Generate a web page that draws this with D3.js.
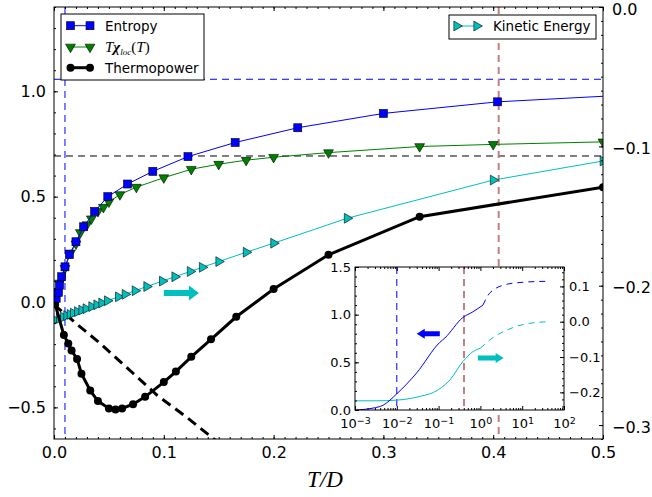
<!DOCTYPE html>
<html>
<head>
<meta charset="utf-8">
<script src="https://cdn.jsdelivr.net/npm/d3@7"></script>
<style>
body { margin: 0; background: #fff; }
text { font-family: "DejaVu Sans", sans-serif; }
</style>
</head>
<body>
<script>
// ---- main panel data ----
var entropyT   = [0.002, 0.004, 0.005, 0.007, 0.010, 0.014, 0.020, 0.027, 0.037, 0.049, 0.067, 0.090, 0.122, 0.165, 0.222, 0.300, 0.404, 0.550];
var entropyVal = [0.018, 0.046, 0.080, 0.120, 0.167, 0.225, 0.286, 0.357, 0.430, 0.500, 0.560, 0.620, 0.690, 0.757, 0.827, 0.895, 0.950, 0.990];

var chiT   = [0.003, 0.005, 0.010, 0.015, 0.020, 0.024, 0.030, 0.034, 0.040, 0.045, 0.050, 0.060, 0.075, 0.100, 0.125, 0.150, 0.175, 0.200, 0.250, 0.333, 0.400, 0.500];
var chiVal = [0.050, 0.090, 0.160, 0.233, 0.276, 0.330, 0.367, 0.395, 0.430, 0.450, 0.475, 0.510, 0.545, 0.590, 0.630, 0.654, 0.673, 0.687, 0.709, 0.738, 0.748, 0.760];

var thermoT   = [0.001, 0.009, 0.013, 0.016, 0.021, 0.025, 0.033, 0.040, 0.050, 0.056, 0.062, 0.072, 0.083, 0.100, 0.111, 0.125, 0.143, 0.166, 0.200, 0.250, 0.333, 0.500];
var thermoVal = [-0.010, -0.157, -0.197, -0.230, -0.270, -0.340, -0.420, -0.470, -0.505, -0.510, -0.505, -0.485, -0.450, -0.380, -0.330, -0.260, -0.177, -0.070, 0.062, 0.224, 0.405, 0.545];

// low-T thermopower (dashed)
var lowT    = [0.000, 0.022, 0.042, 0.072, 0.094, 0.121, 0.160];
var lowTVal = [-0.012, -0.110, -0.196, -0.338, -0.443, -0.547, -0.710];

// kinetic energy, right axis
var keT   = [0.0009, 0.0049, 0.0085, 0.0115, 0.0146, 0.0176, 0.0213, 0.0252, 0.0291, 0.0343, 0.0389, 0.0434, 0.0486, 0.0586, 0.0647, 0.0738, 0.0844, 0.0987, 0.110, 0.124, 0.135, 0.150, 0.175, 0.200, 0.267, 0.400, 0.500];
var keVal = [-0.2245, -0.2235, -0.2225, -0.2215, -0.2206, -0.2197, -0.2186, -0.2175, -0.2165, -0.2150, -0.2137, -0.2124, -0.2108, -0.2080, -0.2062, -0.2036, -0.2006, -0.1967, -0.1936, -0.1898, -0.1868, -0.1827, -0.1760, -0.1695, -0.1516, -0.1242, -0.1105];

var ln2Level = 0.693, entropyTop = 1.057, tLow = 0.010, tHigh = 0.405;

// ---- inset data ----
var inSolidT     = [0.001, 0.0027, 0.0047, 0.010, 0.030, 0.107, 0.141, 0.38, 0.66, 1.15];
var inSolidS     = [0.0, 0.02, 0.05, 0.17, 0.39, 0.71, 0.755, 0.97, 1.03, 1.10];
var inDashT      = [1.15, 1.7, 4.4, 10.5, 39];
var inDashS      = [1.10, 1.23, 1.32, 1.34, 1.35];
var inKeSolidT   = [0.001, 0.0032, 0.010, 0.0316, 0.100, 0.186, 0.38, 0.66, 1.0];
var inKeSolidVal = [-0.224, -0.224, -0.222, -0.213, -0.192, -0.165, -0.113, -0.085, -0.075];
var inKeDashT    = [1.0, 1.7, 4.4, 10.5, 39];
var inKeDashVal  = [-0.075, -0.051, -0.023, -0.008, 0.0];

// ticks
var xTicks = [0, 0.1, 0.2, 0.3, 0.4, 0.5];
var yLeftTicks = [-0.5, 0, 0.5, 1.0];
var yRightTicks = [-0.3, -0.2, -0.1, 0.0];
var inXTicks = [1e-3, 1e-2, 1e-1, 1e0, 1e1, 1e2];
var inXExp = ["\u22123", "\u22122", "\u22121", "0", "1", "2"];
var inLeftTicks = [0, 0.5, 1.0, 1.5];
var inRightTicks = [-0.2, -0.1, 0.0, 0.1];

var W = 652, H = 497;
var L = 54, R = 603, T = 7, B = 439;
var BLUE = "#0000ff", GREEN = "#008000", CYAN = "#00bfbf", RED = "#c47f7f";

var svg = d3.select("body").append("svg").attr("width", W).attr("height", H);
svg.append("rect").attr("width", W).attr("height", H).attr("fill", "#fff");

var x = d3.scaleLinear().domain([0, 0.5]).range([L, R]);
var yL = d3.scaleLinear().domain([-0.65, 1.4]).range([B, T]);
var yR = d3.scaleLinear().domain([-0.31, 0]).range([B, T]);

svg.append("clipPath").attr("id", "clipMain").append("rect")
   .attr("x", L).attr("y", T).attr("width", R - L).attr("height", B - T);
var plot = svg.append("g").attr("clip-path", "url(#clipMain)");

function zip(a, b) { return a.map(function(v, i) { return [v, b[i]]; }); }

// reference lines
plot.append("line").attr("x1", L).attr("x2", R).attr("y1", yL(entropyTop)).attr("y2", yL(entropyTop))
    .attr("stroke", BLUE).attr("stroke-width", 1).attr("stroke-dasharray", "7,5");
plot.append("line").attr("x1", x(tLow)).attr("x2", x(tLow)).attr("y1", T).attr("y2", B)
    .attr("stroke", BLUE).attr("stroke-width", 1).attr("stroke-dasharray", "7,5");
plot.append("line").attr("x1", L).attr("x2", R).attr("y1", yL(ln2Level)).attr("y2", yL(ln2Level))
    .attr("stroke", "#000").attr("stroke-width", 1).attr("stroke-dasharray", "7,5");
plot.append("line").attr("x1", x(tHigh)).attr("x2", x(tHigh)).attr("y1", T).attr("y2", B)
    .attr("stroke", RED).attr("stroke-width", 2).attr("stroke-dasharray", "7,5");

var lineL = d3.line().x(function(d) { return x(d[0]); }).y(function(d) { return yL(d[1]); });
var lineR = d3.line().x(function(d) { return x(d[0]); }).y(function(d) { return yR(d[1]); });

// low-T dashed
plot.append("path").datum(zip(lowT, lowTVal)).attr("d", lineL)
    .attr("fill", "none").attr("stroke", "#000").attr("stroke-width", 3).attr("stroke-dasharray", "10,6");

// kinetic energy
var ke = zip(keT, keVal);
plot.append("path").datum(ke).attr("d", lineR).attr("fill", "none").attr("stroke", CYAN).attr("stroke-width", 1);
plot.selectAll(".ke").data(ke).enter().append("path")
    .attr("d", d3.symbol().type(d3.symbolTriangle).size(42))
    .attr("transform", function(d) { return "translate(" + x(d[0]) + "," + yR(d[1]) + ") rotate(90)"; })
    .attr("fill", CYAN).attr("stroke", "#000").attr("stroke-width", 0.6);

// thermopower
var th = zip(thermoT, thermoVal);
plot.append("path").datum(th).attr("d", lineL).attr("fill", "none").attr("stroke", "#000").attr("stroke-width", 3);
plot.selectAll(".th").data(th).enter().append("circle")
    .attr("cx", function(d) { return x(d[0]); }).attr("cy", function(d) { return yL(d[1]); })
    .attr("r", 4).attr("fill", "#000");

// T chi_loc
var chi = zip(chiT, chiVal);
plot.append("path").datum(chi).attr("d", lineL).attr("fill", "none").attr("stroke", GREEN).attr("stroke-width", 1);
plot.selectAll(".chi").data(chi).enter().append("path")
    .attr("d", d3.symbol().type(d3.symbolTriangle).size(42))
    .attr("transform", function(d) { return "translate(" + x(d[0]) + "," + yL(d[1]) + ") rotate(180)"; })
    .attr("fill", GREEN).attr("stroke", "#000").attr("stroke-width", 0.6);

// entropy
var ent = zip(entropyT, entropyVal);
plot.append("path").datum(ent).attr("d", lineL).attr("fill", "none").attr("stroke", BLUE).attr("stroke-width", 1);
plot.selectAll(".ent").data(ent).enter().append("rect")
    .attr("x", function(d) { return x(d[0]) - 4; }).attr("y", function(d) { return yL(d[1]) - 4; })
    .attr("width", 8).attr("height", 8)
    .attr("fill", BLUE).attr("stroke", "#000").attr("stroke-width", 0.6);

// block arrow helper (tip at x2)
function arrow(g, x1, x2, y, sw, hw, hl, color) {
  var dir = x2 > x1 ? 1 : -1;
  var xb = x2 - dir * hl;
  var pts = [[x1, y - sw / 2], [xb, y - sw / 2], [xb, y - hw / 2], [x2, y], [xb, y + hw / 2], [xb, y + sw / 2], [x1, y + sw / 2]];
  g.append("path").attr("d", d3.line()(pts) + "Z").attr("fill", color);
}
arrow(svg, x(0.1), x(0.132), yR(-0.2052), 6, 15, 10, CYAN);

// ---- main axes ----
function strip(g) { g.select(".domain").remove(); g.selectAll("line").attr("stroke", "#000"); }
var fmt1 = d3.format(".1f");
var minorX = d3.range(0, 51).map(function(i) { return i / 100; });
var minorYL = d3.range(-6, 15).map(function(i) { return i / 10; });
var minorYR = d3.range(-31, 1).map(function(i) { return i / 100; });

svg.append("g").attr("transform", "translate(0," + B + ")")
   .call(d3.axisBottom(x).tickValues(minorX).tickSize(-2).tickFormat("")).call(strip);
svg.append("g").attr("transform", "translate(0," + B + ")")
   .call(d3.axisBottom(x).tickValues(xTicks).tickSize(-4).tickPadding(8).tickFormat(fmt1)).call(strip)
   .selectAll("text").attr("font-size", 16).attr("fill", "#000");
svg.append("g").attr("transform", "translate(0," + T + ")")
   .call(d3.axisTop(x).tickValues(minorX).tickSize(-2).tickFormat("")).call(strip);
svg.append("g").attr("transform", "translate(0," + T + ")")
   .call(d3.axisTop(x).tickValues(xTicks).tickSize(-4).tickFormat("")).call(strip);

svg.append("g").attr("transform", "translate(" + L + ",0)")
   .call(d3.axisLeft(yL).tickValues(minorYL).tickSize(-2).tickFormat("")).call(strip);
svg.append("g").attr("transform", "translate(" + L + ",0)")
   .call(d3.axisLeft(yL).tickValues(yLeftTicks).tickSize(-4).tickPadding(8).tickFormat(fmt1)).call(strip)
   .selectAll("text").attr("font-size", 16).attr("fill", "#000");

svg.append("g").attr("transform", "translate(" + R + ",0)")
   .call(d3.axisRight(yR).tickValues(minorYR).tickSize(-2).tickFormat("")).call(strip);
svg.append("g").attr("transform", "translate(" + R + ",0)")
   .call(d3.axisRight(yR).tickValues(yRightTicks).tickSize(-4).tickPadding(9).tickFormat(fmt1)).call(strip)
   .selectAll("text").attr("font-size", 16).attr("fill", "#000").attr("dy", "0.45em");

svg.append("rect").attr("x", L).attr("y", T).attr("width", R - L).attr("height", B - T)
   .attr("fill", "none").attr("stroke", "#000").attr("stroke-width", 1);

svg.append("text").attr("x", 325).attr("y", 487).attr("text-anchor", "middle")
   .attr("font-family", "Liberation Serif").attr("font-style", "italic").attr("font-size", 23)
   .style("font-family", "'Liberation Serif', serif").text("T/D");

// ---- inset ----
var iL = 355, iR = 564, iT = 267, iB = 410;
var xi = d3.scaleLog().domain([1e-3, 1e2]).range([iL, iR]);
var yiL = d3.scaleLinear().domain([0, 1.5]).range([iB, iT]);
var yiR = d3.scaleLinear().domain([-0.25, 0.155]).range([iB, iT]);
var inset = svg.append("g");
inset.append("rect").attr("x", iL).attr("y", iT).attr("width", iR - iL).attr("height", iB - iT).attr("fill", "#fff");
svg.append("clipPath").attr("id", "clipInset").append("rect")
   .attr("x", iL).attr("y", iT).attr("width", iR - iL).attr("height", iB - iT);
var ip = inset.append("g").attr("clip-path", "url(#clipInset)");

ip.append("line").attr("x1", xi(tLow)).attr("x2", xi(tLow)).attr("y1", iT).attr("y2", iB)
  .attr("stroke", BLUE).attr("stroke-width", 1).attr("stroke-dasharray", "7,5");
ip.append("line").attr("x1", xi(tHigh)).attr("x2", xi(tHigh)).attr("y1", iT).attr("y2", iB)
  .attr("stroke", RED).attr("stroke-width", 2).attr("stroke-dasharray", "7,5");

var liL = d3.line().curve(d3.curveMonotoneX).x(function(d) { return xi(d[0]); }).y(function(d) { return yiL(d[1]); });
var liR = d3.line().curve(d3.curveMonotoneX).x(function(d) { return xi(d[0]); }).y(function(d) { return yiR(d[1]); });
ip.append("path").datum(zip(inKeSolidT, inKeSolidVal)).attr("d", liR).attr("fill", "none").attr("stroke", CYAN).attr("stroke-width", 1);
ip.append("path").datum(zip(inKeDashT, inKeDashVal)).attr("d", liR).attr("fill", "none").attr("stroke", CYAN).attr("stroke-width", 1).attr("stroke-dasharray", "6,5");
ip.append("path").datum(zip(inSolidT, inSolidS)).attr("d", liL).attr("fill", "none").attr("stroke", BLUE).attr("stroke-width", 1);
ip.append("path").datum(zip(inDashT, inDashS)).attr("d", liL).attr("fill", "none").attr("stroke", BLUE).attr("stroke-width", 1).attr("stroke-dasharray", "6,5");

arrow(inset, xi(0.107), xi(0.030), yiL(0.80), 5, 10, 8, BLUE);
arrow(inset, xi(0.87), xi(3.6), yiR(-0.103), 5, 10, 8, CYAN);

var minorXi = xi.ticks().filter(function(v) { return inXTicks.indexOf(v) < 0; });
var minorYiL = d3.range(0, 16).map(function(i) { return i / 10; });
var minorYiR = d3.range(-12, 8).map(function(i) { return i / 50; });

inset.append("g").attr("transform", "translate(0," + iB + ")")
  .call(d3.axisBottom(xi).tickValues(minorXi).tickSize(-2).tickFormat("")).call(strip);
var ixb = inset.append("g").attr("transform", "translate(0," + iB + ")")
  .call(d3.axisBottom(xi).tickValues(inXTicks).tickSize(-4).tickPadding(9).tickFormat("")).call(strip);
ixb.selectAll(".tick text").attr("font-size", 13).attr("fill", "#000").each(function(d, i) {
  var t = d3.select(this);
  t.append("tspan").text("10");
  t.append("tspan").attr("dy", "-0.45em").attr("font-size", 9.5).text(inXExp[i]);
});
inset.append("g").attr("transform", "translate(0," + iT + ")")
  .call(d3.axisTop(xi).tickValues(minorXi).tickSize(-2).tickFormat("")).call(strip);
inset.append("g").attr("transform", "translate(0," + iT + ")")
  .call(d3.axisTop(xi).tickValues(inXTicks).tickSize(-4).tickFormat("")).call(strip);

inset.append("g").attr("transform", "translate(" + iL + ",0)")
  .call(d3.axisLeft(yiL).tickValues(minorYiL).tickSize(-2).tickFormat("")).call(strip);
inset.append("g").attr("transform", "translate(" + iL + ",0)")
  .call(d3.axisLeft(yiL).tickValues(inLeftTicks).tickSize(-4).tickPadding(4).tickFormat(fmt1)).call(strip)
  .selectAll("text").attr("font-size", 13).attr("fill", "#000");
inset.append("g").attr("transform", "translate(" + iR + ",0)")
  .call(d3.axisRight(yiR).tickValues(minorYiR).tickSize(-2).tickFormat("")).call(strip);
inset.append("g").attr("transform", "translate(" + iR + ",0)")
  .call(d3.axisRight(yiR).tickValues(inRightTicks).tickSize(-4).tickPadding(5).tickFormat(fmt1)).call(strip)
  .selectAll("text").attr("font-size", 13).attr("fill", "#000");
inset.append("rect").attr("x", iL).attr("y", iT).attr("width", iR - iL).attr("height", iB - iT)
  .attr("fill", "none").attr("stroke", "#000").attr("stroke-width", 1);

// ---- legends ----
var leg = svg.append("g");
leg.append("rect").attr("x", 61).attr("y", 14).attr("width", 143).attr("height", 66)
   .attr("fill", "#fff").attr("stroke", "#000").attr("stroke-width", 1);
var rows = [25.7, 47, 67.7];
// entropy row
leg.append("line").attr("x1", 70.5).attr("x2", 90).attr("y1", rows[0]).attr("y2", rows[0]).attr("stroke", BLUE);
[70.5, 90].forEach(function(px) {
  leg.append("rect").attr("x", px - 4).attr("y", rows[0] - 4).attr("width", 8).attr("height", 8)
     .attr("fill", BLUE).attr("stroke", "#000").attr("stroke-width", 0.6);
});
// chi row
leg.append("line").attr("x1", 70.5).attr("x2", 90).attr("y1", rows[1]).attr("y2", rows[1]).attr("stroke", GREEN);
[70.5, 90].forEach(function(px) {
  leg.append("path").attr("d", d3.symbol().type(d3.symbolTriangle).size(42)())
     .attr("transform", "translate(" + px + "," + rows[1] + ") rotate(180)")
     .attr("fill", GREEN).attr("stroke", "#000").attr("stroke-width", 0.6);
});
// thermopower row
leg.append("line").attr("x1", 70.5).attr("x2", 90).attr("y1", rows[2]).attr("y2", rows[2]).attr("stroke", "#000").attr("stroke-width", 3);
[70.5, 90].forEach(function(px) {
  leg.append("circle").attr("cx", px).attr("cy", rows[2]).attr("r", 4).attr("fill", "#000");
});
leg.append("text").attr("x", 105).attr("y", rows[0] + 5).attr("font-size", 13.5).text("Entropy");
var chiLabel = leg.append("text").attr("x", 105).attr("y", rows[1] + 5).attr("font-size", 15)
   .style("font-family", "'Liberation Serif', serif");
chiLabel.append("tspan").attr("font-style", "italic").text("T");
chiLabel.append("tspan").attr("font-style", "italic").attr("font-weight", "bold").text("\u03c7");
chiLabel.append("tspan").attr("font-style", "italic").attr("font-size", 9).attr("dy", 3).text("loc");
chiLabel.append("tspan").attr("dy", -3).text("(");
chiLabel.append("tspan").attr("font-style", "italic").text("T");
chiLabel.append("tspan").text(")");
leg.append("text").attr("x", 105).attr("y", rows[2] + 5).attr("font-size", 13.5).text("Thermopower");

var leg2 = svg.append("g");
leg2.append("rect").attr("x", 449).attr("y", 15).attr("width", 147).attr("height", 24)
    .attr("fill", "#fff").attr("stroke", "#000").attr("stroke-width", 1);
leg2.append("line").attr("x1", 456.7).attr("x2", 476.7).attr("y1", 26).attr("y2", 26).attr("stroke", CYAN);
[456.7, 476.7].forEach(function(px) {
  leg2.append("path").attr("d", d3.symbol().type(d3.symbolTriangle).size(42)())
      .attr("transform", "translate(" + px + ",26) rotate(90)")
      .attr("fill", CYAN).attr("stroke", "#000").attr("stroke-width", 0.6);
});
leg2.append("text").attr("x", 493).attr("y", 31).attr("font-size", 13.5).text("Kinetic Energy");
</script>
</body>
</html>
